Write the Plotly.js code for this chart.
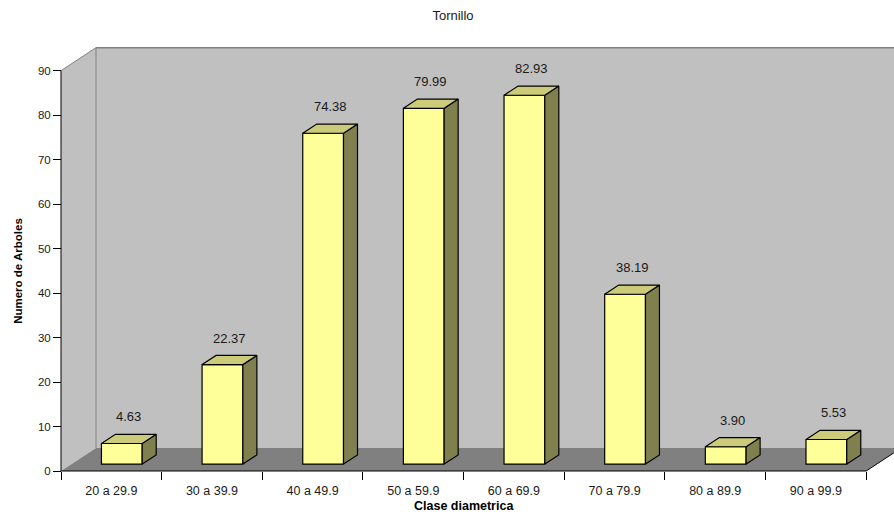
<!DOCTYPE html>
<html>
<head>
<meta charset="utf-8">
<script src="https://cdn.plot.ly/plotly-3.0.1.min.js"></script>
<style>
  html, body { margin: 0; padding: 0; background: #fff; }
  #chart { width: 894px; height: 517px; }
</style>
</head>
<body>
<div id="chart"></div>
<script>
// Tornillo: number of trees per diameter class
const categories = ['20 a 29.9', '30 a 39.9', '40 a 49.9', '50 a 59.9',
                    '60 a 69.9', '70 a 79.9', '80 a 89.9', '90 a 99.9'];
const arboles = [4.63, 22.37, 74.38, 79.99, 82.93, 38.19, 3.90, 5.53];
const yTicks = [0, 10, 20, 30, 40, 50, 60, 70, 80, 90];
const yMax = 90;

// Page and plot-area geometry (pixels)
const W = 894, H = 517;
const M = { l: 50, r: 0, t: 30, b: 36 };
const plotW = W - M.l - M.r, plotH = H - M.t - M.b;
const ORIGIN_X = 61, ORIGIN_Y = 471;   // front-left corner of the floor
const PXU = 100.65;                      // pixels per category
const PXV = 4.448;                       // pixels per unit of value

// Oblique depth of the box, in axis units
const DX = 35 / PXU, DY = 23 / PXV;
// Bars: width (in categories) and front/back depth fractions
const BAR_W = 0.405, F0 = 0.3, F1 = 0.7;

const xRange = [-(ORIGIN_X - M.l) / PXU, (W - M.r - ORIGIN_X) / PXU];
const yRange = [-(H - M.b - ORIGIN_Y) / PXV, (ORIGIN_Y - M.t) / PXV];
const nCat = categories.length;

const FRONT = '#ffff99', TOP = '#cbcb7a', SIDE = '#80804f';
const WALL = '#c0c0c0', FLOOR = '#808080', EDGE = '#808080';
const FONT = 'Liberation Sans, Arial, sans-serif';

function poly(pts) {
  return 'M ' + pts.map(p => p[0] + ',' + p[1]).join(' L ') + ' Z';
}

// Box: back wall, left wall, floor
const shapes = [
  { type: 'path', layer: 'below', xref: 'x', yref: 'y',
    path: poly([[DX, DY], [nCat + DX, DY], [nCat + DX, yMax + DY], [DX, yMax + DY]]),
    fillcolor: WALL, line: { width: 0 } },
  { type: 'path', layer: 'below', xref: 'x', yref: 'y',
    path: poly([[0, 0], [DX, DY], [DX, yMax + DY], [0, yMax]]),
    fillcolor: WALL, line: { width: 0 } },
  { type: 'path', layer: 'below', xref: 'x', yref: 'y',
    path: poly([[0, 0], [nCat, 0], [nCat + DX, DY], [DX, DY]]),
    fillcolor: FLOOR, line: { width: 0 } },
  // wall edges
  { type: 'line', layer: 'below', xref: 'x', yref: 'y',
    x0: 0, y0: yMax, x1: DX, y1: yMax + DY, line: { color: EDGE, width: 1 } },
  { type: 'line', layer: 'below', xref: 'x', yref: 'y',
    x0: DX, y0: DY, x1: DX, y1: yMax + DY, line: { color: EDGE, width: 1 } },
  { type: 'line', layer: 'below', xref: 'x', yref: 'y',
    x0: DX, y0: yMax + DY, x1: nCat + DX, y1: yMax + DY, line: { color: EDGE, width: 1.5 } },
  // floor edges and axis lines
  { type: 'line', layer: 'below', xref: 'x', yref: 'y',
    x0: nCat, y0: 0, x1: nCat + DX, y1: DY, line: { color: '#000', width: 1 } },
  { type: 'line', layer: 'above', xref: 'x', yref: 'y',
    x0: 0, y0: 0, x1: nCat, y1: 0, line: { color: '#000', width: 1 } },
  { type: 'line', layer: 'above', xref: 'x', yref: 'y',
    x0: 0, y0: 0, x1: 0, y1: yMax, line: { color: '#000', width: 1 } }
];

// Side and top faces of each bar as filled polygons
const sideX = [], sideY = [], topX = [], topY = [];
arboles.forEach((v, i) => {
  const u0 = i + 0.5 - BAR_W / 2, u1 = i + 0.5 + BAR_W / 2;
  const a = [u1 + F0 * DX, F0 * DY], b = [u1 + F1 * DX, F1 * DY];
  const c = [u1 + F1 * DX, v + F1 * DY], d = [u1 + F0 * DX, v + F0 * DY];
  [a, b, c, d, a].forEach(p => { sideX.push(p[0]); sideY.push(p[1]); });
  sideX.push(null); sideY.push(null);
  const e = [u0 + F0 * DX, v + F0 * DY], f = [u1 + F0 * DX, v + F0 * DY];
  const g = [u1 + F1 * DX, v + F1 * DY], h = [u0 + F1 * DX, v + F1 * DY];
  [e, f, g, h, e].forEach(p => { topX.push(p[0]); topY.push(p[1]); });
  topX.push(null); topY.push(null);
});

const traces = [
  { type: 'bar', x: arboles.map((_, i) => i + 0.5 + F0 * DX), y: arboles,
    base: F0 * DY, width: BAR_W,
    marker: { color: FRONT, line: { color: '#000', width: 1.2 } },
    hoverinfo: 'skip' },
  { type: 'scatter', mode: 'lines', x: sideX, y: sideY, fill: 'toself',
    fillcolor: SIDE, line: { color: '#000', width: 1.2 }, hoverinfo: 'skip' },
  { type: 'scatter', mode: 'lines', x: topX, y: topY, fill: 'toself',
    fillcolor: TOP, line: { color: '#000', width: 1.2 }, hoverinfo: 'skip' }
];

// Value labels above each bar
const annotations = arboles.map((v, i) => ({
  xref: 'x', yref: 'y', x: i + 0.5 + 0.5 * DX, y: v + 0.5 * DY,
  text: v.toFixed(2), showarrow: false, yanchor: 'middle', yshift: 22,
  font: { family: FONT, size: 13, color: '#1a1a1a' }
}));
annotations.push({
  xref: 'paper', yref: 'y', x: 0, xshift: 18 - M.l, y: yMax / 2,
  text: '<b>Numero de Arboles</b>', textangle: -90, showarrow: false,
  xanchor: 'center', yanchor: 'middle',
  font: { family: FONT, size: 11.5, color: '#000' }
});
annotations.push({
  xref: 'x', yref: 'paper', x: nCat / 2, y: 0, yshift: -(505.5 - (H - M.b)),
  text: '<b>Clase diametrica</b>', showarrow: false,
  xanchor: 'center', yanchor: 'middle',
  font: { family: FONT, size: 12.5, color: '#000' }
});

const layout = {
  width: W, height: H,
  margin: M,
  paper_bgcolor: '#fff', plot_bgcolor: 'rgba(0,0,0,0)',
  showlegend: false,
  barmode: 'overlay',
  title: {
    text: 'Tornillo', xref: 'container', x: 453 / W, xanchor: 'center',
    yref: 'container', y: 1 - 15.5 / H, yanchor: 'middle',
    font: { family: FONT, size: 13, color: '#1a1a1a' }
  },
  xaxis: {
    range: xRange, anchor: 'free', position: (H - M.b - ORIGIN_Y) / plotH,
    tickmode: 'array', tickvals: categories.map((_, i) => i + 0.5), ticktext: categories,
    ticks: 'outside', ticklen: 8, tickcolor: 'rgba(0,0,0,0)',
    minor: { tickmode: 'array', tickvals: categories.map((_, i) => i).concat([nCat]),
             ticks: 'outside', ticklen: 8, tickcolor: '#000', tickwidth: 1, showgrid: false },
    tickfont: { family: FONT, size: 12.5, color: '#1a1a1a' },
    showline: false, showgrid: false, zeroline: false, fixedrange: true
  },
  yaxis: {
    range: yRange, anchor: 'free', position: (ORIGIN_X - M.l) / plotW,
    tickmode: 'array', tickvals: yTicks,
    ticks: 'outside', ticklen: 8, tickcolor: '#000', tickwidth: 1,
    tickfont: { family: FONT, size: 11.5, color: '#1a1a1a' },
    showline: false, showgrid: false, zeroline: false, fixedrange: true
  },
  shapes: shapes,
  annotations: annotations
};

Plotly.newPlot('chart', traces, layout, { staticPlot: true, displayModeBar: false });
</script>
</body>
</html>
